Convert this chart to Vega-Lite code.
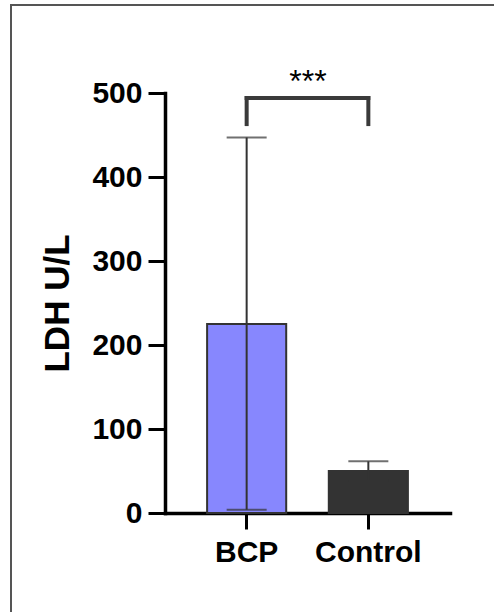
{
  "$schema": "https://vega.github.io/schema/vega-lite/v6.json",
  "width": 485,
  "height": 637,
  "autosize": "none",
  "padding": {"left": 11, "top": 5, "right": -2, "bottom": -30},
  "background": "white",
  "config": {
    "view": {"stroke": "#555555", "strokeWidth": 2},
    "axis": {
      "domainColor": "#000000", "domainWidth": 3.5, "domainCap": "square",
      "tickColor": "#000000", "tickWidth": 3, "grid": false,
      "labelFont": "Liberation Sans", "labelFontWeight": "bold", "labelColor": "#000000",
      "titleFont": "Liberation Sans", "titleFontWeight": "bold", "titleColor": "#000000"
    },
    "axisX": {"offset": -129, "tickSize": 16, "labelFontSize": 30, "labelPadding": 8, "labelAngle": 0},
    "axisY": {"offset": -154, "tickSize": 17, "labelFontSize": 30, "labelPadding": 6, "titleFontSize": 35, "titlePadding": 16, "tickCount": 5}
  },
  "datasets": {
    "bars": [
      {"group": "BCP", "mean": 225, "lo": 4, "hi": 447},
      {"group": "Control", "mean": 50, "lo": 38.5, "hi": 61.5}
    ],
    "legs": [
      {"group": "BCP", "y": 463, "y2": 494},
      {"group": "Control", "y": 463, "y2": 494}
    ],
    "top": [{"from": "BCP", "to": "Control", "y": 494}],
    "stars": [{"group": "BCP", "y": 501, "label": "***"}]
  },
  "layer": [
    {
      "data": {"name": "bars"},
      "mark": {"type": "bar", "stroke": "#333333", "strokeWidth": 2},
      "encoding": {
        "x": {"field": "group", "type": "nominal", "title": null,
              "scale": {"domain": ["BCP", "Control"], "range": [154, 439], "paddingInner": 0.35, "paddingOuter": 0.346}},
        "y": {"field": "mean", "type": "quantitative", "title": "LDH U/L",
              "scale": {"domain": [0, 500], "range": [508, 88], "nice": false, "zero": true}},
        "color": {"field": "group", "type": "nominal", "legend": null,
                  "scale": {"domain": ["BCP", "Control"], "range": ["#8787fe", "#333333"]}}
      }
    },
    {
      "data": {"name": "bars"},
      "mark": {"type": "rule", "color": "#333333", "strokeWidth": 2},
      "encoding": {
        "x": {"field": "group", "type": "nominal", "title": null},
        "y": {"field": "lo", "type": "quantitative", "title": "LDH U/L"},
        "y2": {"field": "hi"}
      }
    },
    {
      "data": {"name": "bars"},
      "mark": {"type": "tick", "color": "#333333", "thickness": 2, "size": 40, "orient": "horizontal"},
      "encoding": {
        "x": {"field": "group", "type": "nominal", "title": null},
        "y": {"field": "hi", "type": "quantitative", "title": "LDH U/L"}
      }
    },
    {
      "data": {"name": "bars"},
      "mark": {"type": "tick", "color": "#333333", "thickness": 2, "size": 40, "orient": "horizontal"},
      "encoding": {
        "x": {"field": "group", "type": "nominal", "title": null},
        "y": {"field": "lo", "type": "quantitative", "title": "LDH U/L"}
      }
    },
    {
      "data": {"name": "legs"},
      "mark": {"type": "rule", "color": "#3a3a3a", "strokeWidth": 4, "strokeCap": "square"},
      "encoding": {
        "x": {"field": "group", "type": "nominal", "title": null},
        "y": {"field": "y", "type": "quantitative", "title": "LDH U/L"},
        "y2": {"field": "y2"}
      }
    },
    {
      "data": {"name": "top"},
      "mark": {"type": "rule", "color": "#3a3a3a", "strokeWidth": 4, "strokeCap": "square"},
      "encoding": {
        "x": {"field": "from", "type": "nominal", "title": null},
        "x2": {"field": "to"},
        "y": {"field": "y", "type": "quantitative", "title": "LDH U/L"}
      }
    },
    {
      "data": {"name": "stars"},
      "mark": {"type": "text", "font": "Liberation Sans", "fontSize": 32, "color": "#000000", "align": "center", "baseline": "alphabetic"},
      "encoding": {
        "x": {"field": "group", "type": "nominal", "title": null, "bandPosition": 1.276},
        "y": {"field": "y", "type": "quantitative", "title": "LDH U/L"},
        "text": {"field": "label"}
      }
    }
  ]
}
